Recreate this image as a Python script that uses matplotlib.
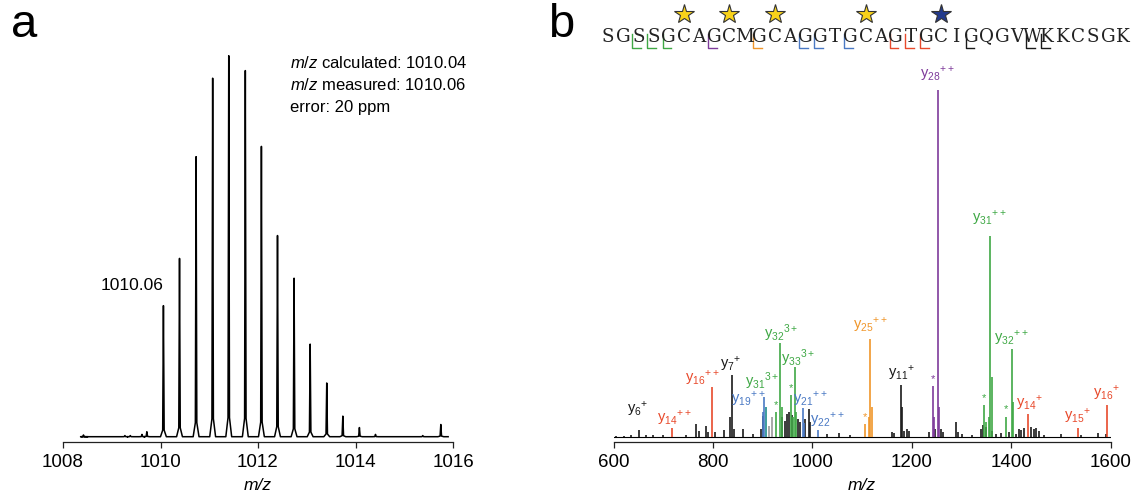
import matplotlib
matplotlib.use("Agg")
import matplotlib.pyplot as plt

plt.rcParams['font.family'] = ['Liberation Sans', 'DejaVu Sans']
plt.rcParams['mathtext.fontset'] = 'custom'
plt.rcParams['mathtext.rm'] = 'Liberation Sans'
plt.rcParams['mathtext.it'] = 'Liberation Sans:italic'
plt.rcParams['mathtext.bf'] = 'Liberation Sans:bold'

# ---------------- data: panel a (isotope envelope, 3+) ----------------
mz_a = [1008.42, 1009.27, 1009.38, 1009.62, 1009.72, 1010.06, 1010.39, 1010.73,
        1011.07, 1011.40, 1011.74, 1012.07, 1012.40, 1012.74, 1013.07, 1013.41,
        1013.74, 1014.08, 1014.41, 1015.38, 1015.75]
int_a = [0.45, 0.3, 0.3, 0.6, 1.3, 34.4, 46.8, 73.5,
         94.1, 100.0, 96.1, 76.2, 52.8, 41.6, 24.3, 14.1,
         5.4, 2.4, 0.6, 0.3, 3.2]
a_ticks = [1008, 1010, 1012, 1014, 1016]
a_notes = ["calculated: 1010.04", "measured: 1010.06", "error: 20 ppm"]
a_peak_label = "1010.06"

# ---------------- data: panel b (MS/MS) ----------------
mz_black = [605, 620, 635, 651, 665, 680, 700, 745, 766, 772, 785, 790, 803, 822,
            835, 838, 843, 860, 880, 896, 900, 939, 944, 949, 953, 959, 970, 975,
            985, 993, 996, 1030, 1053, 1075, 1160, 1165, 1178, 1181, 1185, 1190,
            1195, 1235, 1246, 1258, 1262, 1289, 1292, 1300, 1320, 1340, 1344, 1350,
            1362, 1370, 1380, 1395, 1410, 1415, 1420, 1425, 1440, 1445, 1450, 1455,
            1465, 1500, 1540, 1575, 1590]
int_black = [0.3, 0.3, 0.4, 1.9, 0.6, 0.6, 0.4, 0.6, 3.7, 1.7, 3.2, 1.4, 1.4, 2.0,
             5.8, 17.8, 2.3, 2.3, 0.9, 2.3, 6.0, 5.8, 4.5, 6.6, 7.2, 6.3, 5.2, 4.3,
             5.2, 8.1, 4.3, 0.9, 1.2, 0.6, 1.4, 1.2, 14.9, 8.7, 1.7, 2.3,
             1.7, 1.4, 2.3, 2.3, 1.4, 4.3, 1.4, 0.9, 0.6, 2.3, 3.5, 2.9,
             1.7, 0.9, 1.2, 1.4, 0.9, 2.3, 2.0, 2.6, 2.9, 2.3, 2.6, 1.7,
             0.6, 0.9, 0.6, 1.2, 0.9]
mz_gray = [912, 919]
int_gray = [3.0, 5.8]
mz_red = [718, 797, 1433, 1535, 1592]
int_red = [2.6, 14.2, 6.5, 2.4, 9.1]
mz_blue = [901, 903, 981, 983, 1012]
int_blue = [7.0, 11.5, 8.2, 4.0, 1.9]
mz_teal = [906]
int_teal = [8.7]
mz_green = [927, 935, 938, 957, 960, 964, 967, 1346, 1349, 1355, 1358, 1361, 1389, 1401, 1404]
int_green = [7.2, 26.9, 8.7, 12.0, 5.8, 20.2, 7.0, 9.1, 4.3, 5.8, 57.9, 17.3, 5.8, 25.2, 10.1]
mz_orange = [1106, 1113, 1116, 1119]
int_orange = [3.6, 5.8, 28.1, 8.7]
mz_purple = [1242, 1245, 1252, 1255]
int_purple = [14.6, 5.8, 100.0, 8.7]
b_ticks = [600, 800, 1000, 1200, 1400, 1600]

# fragment labels: (ion number, charge text, colour key, label m/z, label intensity)
frag_num = ['6', '14', '16', '7', '19', '31', '32', '33', '21', '22', '25', '11',
            '28', '31', '32', '14', '15', '16']
frag_chg = ['+', '++', '++', '+', '++', '3+', '3+', '3+', '++', '++', '++', '+',
            '++', '++', '++', '+', '+', '+']
frag_col = ['k', 'r', 'r', 'k', 'b', 'g', 'g', 'g', 'b', 'b', 'o', 'k',
            'p', 'g', 'g', 'r', 'r', 'r']
frag_mz = [649, 722.5, 778, 835, 871, 898.5, 938, 971.5, 995, 1029, 1115.8, 1179.6,
           1250.6, 1355.8, 1400.8, 1437, 1533.2, 1591]
frag_int = [7.7, 5.3, 16.8, 20.7, 10.6, 15.9, 29.8, 22.6, 10.6, 4.6, 32.2, 18.3,
            104.3, 63.0, 28.4, 9.6, 5.8, 12.5]
star_mz = [927, 957, 1106, 1242, 1346, 1389]
star_int = [7.2, 12.0, 3.6, 14.6, 9.1, 5.8]
star_col = ['g', 'g', 'o', 'p', 'g', 'g']

# peptide sequence
sequence = "SGSSGCAGCMGCAGGTGCAGTGCIGQGVWKKCSGK"
mod_sites = [5, 8, 11, 17, 22]
mod_col = ['gold', 'gold', 'gold', 'gold', 'navy']
brk_sites = [2, 3, 4, 7, 10, 13, 14, 16, 19, 20, 21, 24, 28, 29]
brk_col = ['g', 'g', 'g', 'p', 'o', 'b', 'b', 'b', 'r', 'r', 'r', 'k', 'k', 'k']

COL = {'k': '#1a1a1a', 'r': '#e84a2c', 'b': '#4a79c4', 'g': '#3fa845',
       'o': '#f0962a', 'p': '#7e3b9b', 't': '#1c8c8c', 'gray': '#9a9a9a',
       'gold': '#f8d21a', 'navy': '#233a8c'}

W, H = 1143, 495
fig = plt.figure(figsize=(W / 100, H / 100), dpi=100)

def style_axis(ax, ticks):
    for s in ['top', 'right', 'left']:
        ax.spines[s].set_visible(False)
    ax.spines['bottom'].set_linewidth(0.9)
    ax.spines['bottom'].set_color('#222222')
    ax.set_yticks([])
    ax.set_xticks(ticks)
    ax.tick_params(axis='x', direction='out', length=4.5, width=0.9,
                   labelsize=13.5, pad=4, color='#222222')
    ax.set_xlabel('m/z', fontstyle='italic', fontsize=12.5, labelpad=5)

# ---------------- panel a ----------------
axa = fig.add_axes([63 / W, (H - 442) / H, 390 / W, 392 / H])
xs, ys = [1008.5], [0.0]
for m, v in zip(mz_a, int_a):
    xs += [m - 0.06, m - 0.015, m, m + 0.015, m + 0.06]
    ys += [0.0, 0.05 * v, v, 0.05 * v, 0.0]
xs.append(1015.9)
ys.append(0.0)
axa.plot(xs, ys, color='black', lw=1.1)
axa.set_xlim(1008, 1016)
axa.set_ylim(-1.39, 101.5)
style_axis(axa, a_ticks)
axa.text(mz_a[5] + 0.01, 39.6, a_peak_label, ha='right', va='center', fontsize=12.5)
note_y = [96.8, 91.0, 85.2]
for i, (t, yy) in enumerate(zip(a_notes, note_y)):
    s = (r'$\it{m/z}$ ' + t) if i < 2 else t
    axa.text(1012.66, yy, s, ha='left', va='baseline', fontsize=12)
fig.text(11 / W, 1 - 37 / H, 'a', fontsize=34, ha='left', va='baseline')

# ---------------- panel b ----------------
axb = fig.add_axes([613.6 / W, (H - 442) / H, 497.1 / W, 392 / H])
axb.plot([600, 1598], [0, 0], color='black', lw=0.8)
for mzl, il, c in [(mz_black, int_black, 'k'), (mz_gray, int_gray, 'gray'),
                   (mz_red, int_red, 'r'), (mz_blue, int_blue, 'b'),
                   (mz_teal, int_teal, 't'), (mz_green, int_green, 'g'),
                   (mz_orange, int_orange, 'o'), (mz_purple, int_purple, 'p')]:
    axb.vlines(mzl, 0, il, color=COL[c], lw=1.2)
axb.set_xlim(600, 1600)
axb.set_ylim(-1.53, 111.5)
style_axis(axb, b_ticks)
for n, q, c, xm, yi in zip(frag_num, frag_chg, frag_col, frag_mz, frag_int):
    axb.text(xm, yi, 'y$_{' + n + '}$$^{' + q + '}$', color=COL[c], fontsize=10.5,
             ha='center', va='center')
for xm, yi, c in zip(star_mz, star_int, star_col):
    axb.text(xm, yi + 0.6, '*', color=COL[c], fontsize=8, ha='center', va='bottom')
fig.text(548 / W, 1 - 37 / H, 'b', fontsize=34, ha='left', va='baseline')

# ---------------- sequence ----------------
axs = fig.add_axes([600.4 / W, (H - 55) / H, 530.3 / W, 55 / H])
axs.set_xlim(-0.5, 34.5)
axs.set_ylim(55, 0)
axs.axis('off')
for i, ch in enumerate(sequence):
    axs.text(i, 41.6, ch, family='DejaVu Serif', fontsize=13.2, ha='center',
             va='baseline', color='#222222')
for i, c in zip(mod_sites, mod_col):
    axs.plot([i], [14], marker='*', ms=15, mfc=COL[c], mec='#333333', mew=0.8)
for i, c in zip(brk_sites, brk_col):
    axs.plot([i - 0.40, i - 0.40, i + 0.17], [33.5, 47.6, 47.6], color=COL[c], lw=1.0)

fig.savefig('out.png', dpi=100)
